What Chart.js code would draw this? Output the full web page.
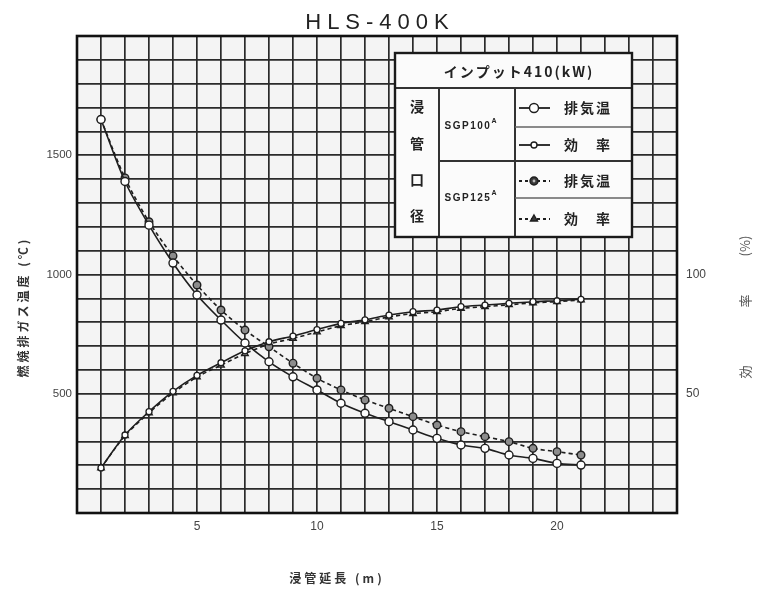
<!DOCTYPE html>
<html>
<head>
<meta charset="utf-8">
<script src="https://cdn.jsdelivr.net/npm/chart.js@4/dist/chart.umd.min.js"></script>
<style>
  html, body { margin: 0; padding: 0; background: #ffffff; }
  #c { display: block; }
</style>
</head>
<body>
<canvas id="c" width="771" height="598"></canvas>
<script>
// ---- data ----
const pipeLength = [1,2,3,4,5,6,7,8,9,10,11,12,13,14,15,16,17,18,19,20,21]; // m
const exhaustTempSGP100 = [1650,1390,1207,1048,914,809,713,634,571,516,460,418,383,348,313,285,271,243,229,208,201]; // °C
const exhaustTempSGP125 = [1650,1405,1221,1078,956,851,767,697,628,565,516,474,439,404,369,341,320,299,271,257,243]; // °C
const efficiencySGP100 = [18.9,32.7,42.5,51.0,57.7,63.0,68.0,71.8,74.2,76.9,79.5,81.0,83.0,84.4,85.1,86.5,87.2,87.9,88.6,89.0,89.6]; // %
const efficiencySGP125 = [18.9,32.4,42.0,50.3,57.0,62.0,66.8,70.8,73.2,75.9,78.5,80.2,82.2,83.6,84.4,85.8,86.5,87.3,88.1,88.6,89.3]; // %
const xTickLabels = [5, 10, 15, 20];
const leftTickLabels = [500, 1000, 1500];
const rightTickLabels = [50, 100];

const chartTitle = 'HLS-400K';
const xTitle = '浸管延長 (m)';
const leftTitle = '燃焼排ガス温度 (℃)';
const rightTitleParts = ['効', '率', '(%)'];
const legendHeader = 'インプット410(kW)';
const legendSide = ['浸', '管', '口', '径'];
const pipeSizes = ['SGP100', 'SGP125'];
const seriesNames = ['排気温', '効　率'];

const toXY = (ys) => ys.map((v, i) => ({ x: pipeLength[i], y: v }));

const INK = '#1e1e1e';
const LATIN = '"Liberation Sans", Arial, sans-serif';
const CJK = '"Noto Sans CJK JP", "Noto Sans", sans-serif';

function drawMarker(ctx, kind, x, y) {
  ctx.save();
  ctx.setLineDash([]);
  ctx.lineWidth = 1.4;
  ctx.strokeStyle = INK;
  ctx.beginPath();
  if (kind === 'circleBig') { ctx.arc(x, y, 4.5, 0, Math.PI * 2); ctx.fillStyle = '#fff'; }
  else if (kind === 'circleSmall') { ctx.arc(x, y, 3, 0, Math.PI * 2); ctx.fillStyle = '#fff'; }
  else if (kind === 'circleDot') { ctx.arc(x, y, 4, 0, Math.PI * 2); ctx.fillStyle = '#3a3a3a'; }
  else { // triangle
    const r = 4;
    ctx.moveTo(x, y - r);
    ctx.lineTo(x + r * 0.87, y + r * 0.5);
    ctx.lineTo(x - r * 0.87, y + r * 0.5);
    ctx.closePath();
    ctx.fillStyle = '#3a3a3a';
  }
  ctx.fill();
  ctx.stroke();
  if (kind === 'circleDot') {
    ctx.beginPath();
    ctx.arc(x, y, 1.4, 0, Math.PI * 2);
    ctx.fillStyle = '#bbb';
    ctx.fill();
  }
  ctx.restore();
}

const decor = {
  id: 'decor',
  beforeDraw(chart) {
    const { ctx, chartArea: a } = chart;
    ctx.save();
    ctx.fillStyle = '#ffffff';
    ctx.fillRect(0, 0, chart.width, chart.height);
    ctx.fillStyle = '#f4f4f4';
    ctx.fillRect(a.left, a.top, a.right - a.left, a.bottom - a.top);
    ctx.restore();
  },
  afterDraw(chart) {
    const { ctx, chartArea: a } = chart;
    ctx.save();
    // plot frame
    ctx.strokeStyle = '#111';
    ctx.lineWidth = 2.6;
    ctx.strokeRect(a.left, a.top, a.right - a.left, a.bottom - a.top);

    // chart title
    ctx.fillStyle = '#222';
    ctx.font = '22px ' + LATIN;
    ctx.letterSpacing = '6px';
    ctx.textAlign = 'center';
    ctx.textBaseline = 'middle';
    ctx.fillText(chartTitle, 380, 23);

    // x title
    ctx.font = 'bold 12px ' + CJK;
    ctx.fillStyle = '#333';
    ctx.letterSpacing = '3px';
    ctx.fillText(xTitle, 337, 578);

    // left title
    ctx.save();
    ctx.translate(23, 307);
    ctx.rotate(-Math.PI / 2);
    ctx.font = 'bold 12px ' + CJK;
    ctx.letterSpacing = '3px';
    ctx.fillText(leftTitle, 0, 0);
    ctx.restore();

    // right title (reads bottom to top, spaced out)
    ctx.save();
    ctx.translate(745, 0);
    ctx.rotate(-Math.PI / 2);
    ctx.font = '13px ' + CJK;
    ctx.fillStyle = '#555';
    ctx.letterSpacing = '0px';
    const rtY = [372, 301, 246];
    rightTitleParts.forEach((t, i) => ctx.fillText(t, -rtY[i], 0));
    ctx.restore();

    // legend table
    const L = 395, R = 632, T = 53, B = 237;
    const c1 = 439, c2 = 515;
    const hB = 88;
    const r1 = 127, r2 = 161, r3 = 198;
    ctx.fillStyle = '#fbfbfb';
    ctx.fillRect(L, T, R - L, B - T);
    ctx.strokeStyle = '#333';
    ctx.lineWidth = 2;
    ctx.beginPath();
    ctx.moveTo(L, hB); ctx.lineTo(R, hB);
    ctx.moveTo(c1, hB); ctx.lineTo(c1, B);
    ctx.moveTo(c2, hB); ctx.lineTo(c2, B);
    ctx.moveTo(c1, r2); ctx.lineTo(R, r2);
    ctx.stroke();
    ctx.strokeStyle = '#666';
    ctx.lineWidth = 1.6;
    ctx.beginPath();
    ctx.moveTo(c2, r1); ctx.lineTo(R, r1);
    ctx.moveTo(c2, r3); ctx.lineTo(R, r3);
    ctx.stroke();
    ctx.strokeStyle = '#1a1a1a';
    ctx.lineWidth = 2.4;
    ctx.strokeRect(L, T, R - L, B - T);

    ctx.fillStyle = '#222';
    ctx.textAlign = 'center';
    ctx.textBaseline = 'middle';
    ctx.font = 'bold 14px ' + CJK;
    ctx.letterSpacing = '2px';
    ctx.fillText(legendHeader, 519, 72);

    ctx.letterSpacing = '0px';
    ctx.font = 'bold 14px ' + CJK;
    const sideY = [107, 144, 180, 216];
    legendSide.forEach((ch, i) => ctx.fillText(ch, 417, sideY[i]));

    // pipe sizes with superscript A
    const pipeY = [126, 198];
    pipeSizes.forEach((p, i) => {
      ctx.font = 'bold 10px ' + LATIN;
      ctx.letterSpacing = '1.5px';
      ctx.textAlign = 'left';
      const w = ctx.measureText(p).width;
      const x0 = 471 - (w + 6) / 2;
      ctx.fillText(p, x0, pipeY[i]);
      ctx.font = 'bold 7px ' + LATIN;
      ctx.letterSpacing = '0px';
      ctx.fillText('A', x0 + w, pipeY[i] - 5);
    });

    // series rows
    const rowY = [108, 145, 181, 219];
    const kinds = ['circleBig', 'circleSmall', 'circleDot', 'triangle'];
    ctx.textAlign = 'center';
    for (let i = 0; i < 4; i++) {
      const y = rowY[i];
      ctx.save();
      ctx.strokeStyle = INK;
      ctx.lineWidth = 1.8;
      ctx.setLineDash(i < 2 ? [] : [3, 3]);
      ctx.beginPath();
      ctx.moveTo(519, y); ctx.lineTo(550, y);
      ctx.stroke();
      ctx.restore();
      drawMarker(ctx, kinds[i], 534, y);
      ctx.fillStyle = '#222';
      ctx.font = 'bold 14px ' + CJK;
      ctx.letterSpacing = '2px';
      ctx.fillText(seriesNames[i % 2], 588, y);
    }
    ctx.restore();
  }
};

new Chart(document.getElementById('c'), {
  type: 'line',
  data: {
    datasets: [
      {
        label: '排気温 SGP100A',
        data: toXY(exhaustTempSGP100),
        yAxisID: 'y',
        borderColor: INK, borderWidth: 1.6,
        pointStyle: 'circle', pointRadius: 4, pointBorderWidth: 1.4,
        pointBackgroundColor: '#ffffff', pointBorderColor: INK,
        tension: 0.3
      },
      {
        label: '効率 SGP100A',
        data: toXY(efficiencySGP100),
        yAxisID: 'y2',
        borderColor: INK, borderWidth: 1.6,
        pointStyle: 'circle', pointRadius: 3, pointBorderWidth: 1.3,
        pointBackgroundColor: '#ffffff', pointBorderColor: INK,
        tension: 0.3
      },
      {
        label: '排気温 SGP125A',
        data: toXY(exhaustTempSGP125),
        yAxisID: 'y',
        borderColor: INK, borderWidth: 1.6, borderDash: [4, 3],
        pointStyle: 'circle', pointRadius: 3.8, pointBorderWidth: 1.4,
        pointBackgroundColor: '#8c8c8c', pointBorderColor: INK,
        tension: 0.3
      },
      {
        label: '効率 SGP125A',
        data: toXY(efficiencySGP125),
        yAxisID: 'y2',
        borderColor: INK, borderWidth: 1.6, borderDash: [4, 3],
        pointStyle: 'triangle', pointRadius: 3.8, pointBorderWidth: 1.3,
        pointBackgroundColor: '#8c8c8c', pointBorderColor: INK,
        tension: 0.3
      }
    ]
  },
  options: {
    responsive: false,
    animation: false,
    layout: { padding: { top: 36, left: 0, right: 0, bottom: 0 } },
    plugins: { legend: { display: false }, tooltip: { enabled: false }, title: { display: false } },
    scales: {
      x: {
        type: 'linear', min: 0, max: 25,
        afterFit(s) { s.height = 85; },
        grid: { color: '#2a2a2a', lineWidth: 1.7, drawTicks: false },
        border: { display: false },
        ticks: {
          stepSize: 1, autoSkip: false, padding: 6, color: '#444',
          font: { family: LATIN, size: 12 },
          callback: (v) => xTickLabels.includes(v) ? String(v) : ''
        }
      },
      y: {
        type: 'linear', position: 'left', min: 0, max: 2000,
        afterFit(s) { s.width = 77; },
        grid: { color: '#2a2a2a', lineWidth: 1.7, drawTicks: false },
        border: { display: false },
        ticks: {
          stepSize: 100, autoSkip: false, padding: 5, color: '#444',
          font: { family: LATIN, size: 11.5 },
          callback: (v) => leftTickLabels.includes(v) ? String(v) : ''
        }
      },
      y2: {
        type: 'linear', position: 'right', min: 0, max: 200,
        afterFit(s) { s.width = 94; },
        grid: { drawOnChartArea: false, drawTicks: false },
        border: { display: false },
        ticks: {
          stepSize: 10, autoSkip: false, padding: 9, color: '#444',
          font: { family: LATIN, size: 12 },
          callback: (v) => rightTickLabels.includes(v) ? String(v) : ''
        }
      }
    }
  },
  plugins: [decor]
});
</script>
</body>
</html>
